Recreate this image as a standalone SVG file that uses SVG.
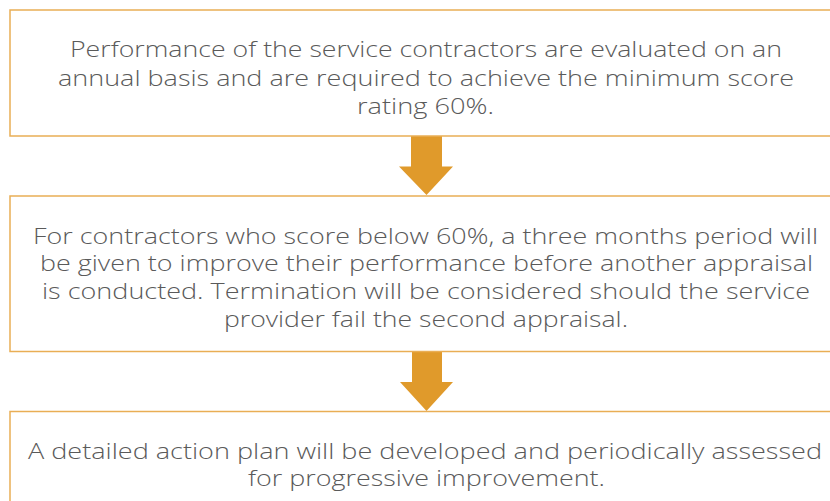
<svg xmlns="http://www.w3.org/2000/svg" width="830" height="501" viewBox="0 0 830 501">
<style>
.box{fill:#fff;stroke:#E9AE55;stroke-width:1.5}
.arrow{fill:#E09A2B}
text{font-family:"Open Sans","Liberation Sans",sans-serif;font-size:22px;fill:#5a5a5a;text-anchor:middle;font-weight:300}
</style>
<rect width="830" height="501" fill="#fff"/>
<g id="connectors">
<polygon class="arrow" points="411,136 442,136 442,166.5 453,166.5 426.5,195 399,166.5 411,166.5"/>
<polygon class="arrow" points="412,351.5 442,351.5 442,382 453,382 426.5,411 400,382 412,382"/>
</g>
<g id="node1">
<rect class="box" x="10" y="10" width="830" height="126"/>
<text x="426" y="57" textLength="712" lengthAdjust="spacingAndGlyphs">Performance of the service contractors are evaluated on an</text>
<text x="426" y="86" textLength="736" lengthAdjust="spacingAndGlyphs">annual basis and are required to achieve the minimum score</text>
<text x="425.5" y="114" textLength="137" lengthAdjust="spacingAndGlyphs">rating 60%.</text>
</g>
<g id="node2">
<rect class="box" x="10" y="196" width="830" height="155.5"/>
<text x="425.5" y="243.5" textLength="785" lengthAdjust="spacingAndGlyphs">For contractors who score below 60%, a three months period will</text>
<text x="426.5" y="271" textLength="773" lengthAdjust="spacingAndGlyphs">be given to improve their performance before another appraisal</text>
<text x="426" y="298.5" textLength="768" lengthAdjust="spacingAndGlyphs">is conducted. Termination will be considered should the service</text>
<text x="426" y="326.5" textLength="404" lengthAdjust="spacingAndGlyphs">provider fail the second appraisal.</text>
</g>
<g id="node3">
<rect class="box" x="10" y="411.5" width="830" height="120"/>
<text x="425" y="458.5" textLength="794" lengthAdjust="spacingAndGlyphs">A detailed action plan will be developed and periodically assessed</text>
<text x="426.5" y="486" textLength="357" lengthAdjust="spacingAndGlyphs">for progressive improvement.</text>
</g>
</svg>
